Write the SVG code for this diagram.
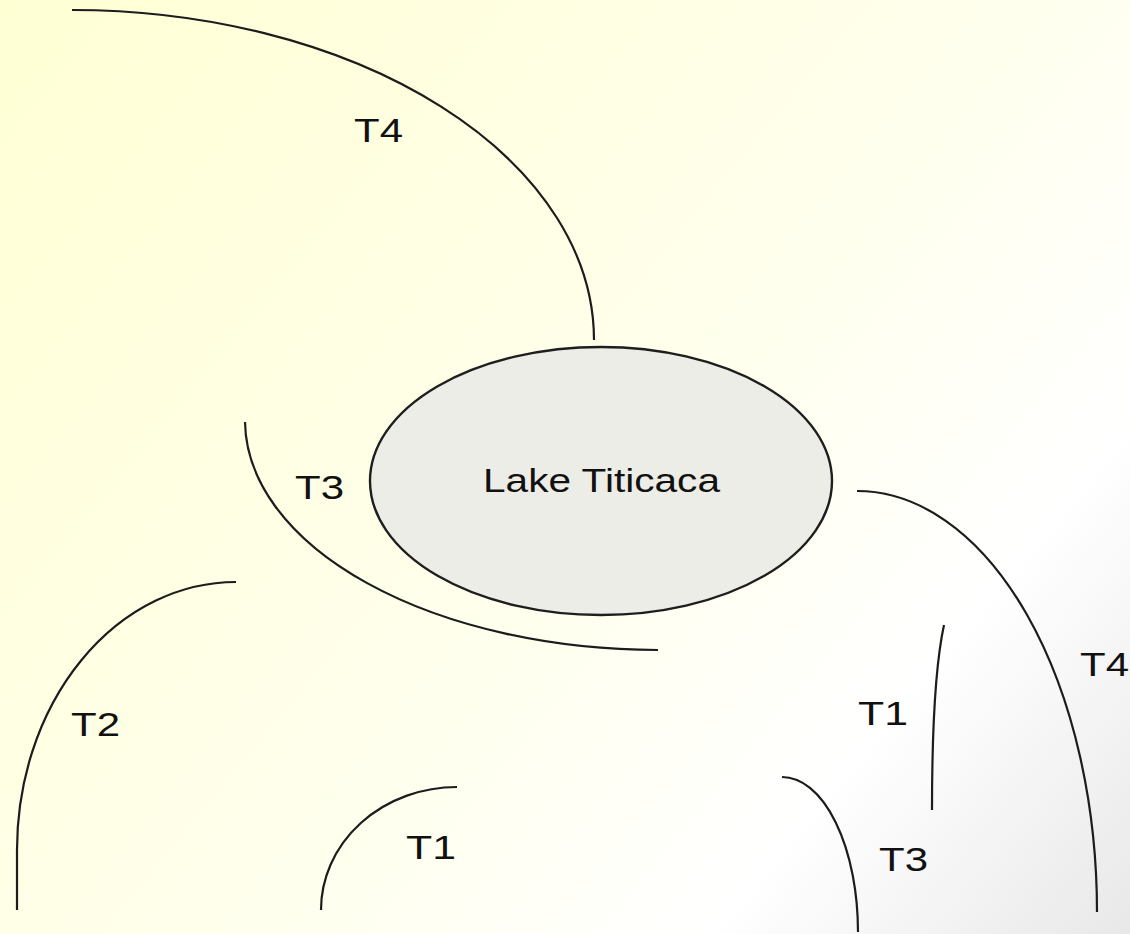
<svg xmlns="http://www.w3.org/2000/svg" width="1130" height="934" viewBox="0 0 1130 934">
  <defs>
    <linearGradient id="bg" gradientUnits="userSpaceOnUse" x1="0" y1="0" x2="1130" y2="934">
      <stop offset="0" stop-color="#FFFFD4"/>
      <stop offset="0.55" stop-color="#FFFFEE"/>
      <stop offset="0.78" stop-color="#FFFFFF"/>
      <stop offset="1" stop-color="#E8E8E8"/>
    </linearGradient>
  </defs>
  <style>
    .curve { fill: none; stroke: #1c1c1c; stroke-width: 2.2; stroke-linecap: butt; }
    .lbl { font-family: "Liberation Sans", Arial, sans-serif; font-size: 34px; fill: #111111; }
    .lake { fill: #EDEDE7; stroke: #1e1e1e; stroke-width: 2.4; }
  </style>
  <rect x="0" y="0" width="1130" height="934" fill="url(#bg)"/>

  <g id="lake-titicaca">
    <ellipse class="lake" cx="601" cy="481" rx="231" ry="134"/>
    <text class="lbl" x="483" y="492" textLength="237" lengthAdjust="spacingAndGlyphs">Lake Titicaca</text>
  </g>

  <g id="connectors">
    <path class="curve" d="M72,10 A522,330 0 0 1 594,340"/>
    <path class="curve" d="M245,422 A414,230 0 0 0 658,650"/>
    <path class="curve" d="M236,582 A219,268 0 0 0 17,850 L17,910"/>
    <path class="curve" d="M457,787 A136,123 0 0 0 321,910"/>
    <path class="curve" d="M857,491 A240,421 0 0 1 1097,912"/>
    <path class="curve" d="M782,777 A76,155 0 0 1 858,932"/>
    <path class="curve" d="M944,625 Q932,680 932,810"/>
  </g>

  <g id="label-t4-top"><text class="lbl" x="354" y="142" textLength="49" lengthAdjust="spacingAndGlyphs">T4</text></g>
  <g id="label-t3-left"><text class="lbl" x="295" y="499" textLength="49" lengthAdjust="spacingAndGlyphs">T3</text></g>
  <g id="label-t2"><text class="lbl" x="71" y="736" textLength="49" lengthAdjust="spacingAndGlyphs">T2</text></g>
  <g id="label-t1-bottom"><text class="lbl" x="406" y="859" textLength="50" lengthAdjust="spacingAndGlyphs">T1</text></g>
  <g id="label-t4-right"><text class="lbl" x="1080" y="676" textLength="49" lengthAdjust="spacingAndGlyphs">T4</text></g>
  <g id="label-t1-right"><text class="lbl" x="858" y="725" textLength="50" lengthAdjust="spacingAndGlyphs">T1</text></g>
  <g id="label-t3-right"><text class="lbl" x="879" y="871" textLength="49" lengthAdjust="spacingAndGlyphs">T3</text></g>
</svg>
